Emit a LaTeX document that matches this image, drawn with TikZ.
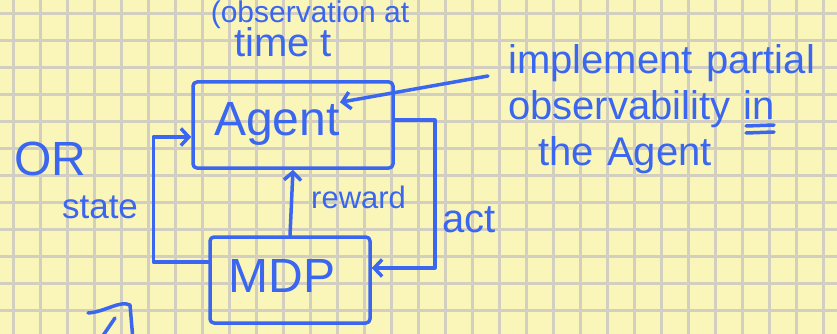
\documentclass[tikz,border=0pt]{standalone}
\usepackage{fontspec}
\setmainfont{Liberation Sans}
\usetikzlibrary{arrows.meta}
\definecolor{ink}{HTML}{3A66F0}
\definecolor{paper}{HTML}{FAF5B9}
\definecolor{gridgray}{HTML}{D2CEC0}
\begin{document}
\begin{tikzpicture}[x=1pt,y=-1pt,
	pen/.style={draw=ink,line width=3.5pt,line cap=round,line join=round},
	arr/.style={pen,-{Straight Barb[length=8pt,width=17pt]}},
	box/.style={pen,rounded corners=4pt,inner sep=0pt},
	hand/.style={text=ink,inner sep=0pt},
	big/.style={hand,font=\fontsize{48}{50}\selectfont},
	mid/.style={hand,font=\fontsize{40}{46}\selectfont},
	small/.style={hand,font=\fontsize{31}{34}\selectfont}]
	\fill[paper] (0,0) rectangle (837,334);
	\useasboundingbox (0,0) rectangle (837,334);
	\clip (0,0) rectangle (837,334);
	\foreach \x in {13.5,40.5,...,837}
		\draw[gridgray,line width=2.4pt] (\x,0) -- (\x,334);
	\foreach \y in {13.5,40.5,...,334}
		\draw[gridgray,line width=2.4pt] (0,\y) -- (837,\y);

	\node[hand,font=\fontsize{30}{34}\selectfont,anchor=base] (obs) at (310,23) {(observation at};
	\node[mid,anchor=base] (timet) at (283,57) {time t};
	\node[big,anchor=base] (or) at (50,175) {OR};

	\node[box,minimum width=200pt,minimum height=86pt] (agent) at (293,125) {};
	\node[big] (agentword) at (277,124) {Agent};
	\node[box,minimum width=160pt,minimum height=86pt] (mdp) at (290,280) {};
	\node[big] (mdpword) at (282,276) {MDP};

	\draw[arr] (mdp.north) -- (agent.south);
	\node[small,anchor=west] (reward) at (311,197) {reward};

	\draw[arr] ([yshift=18pt]mdp.west) -- ++(-55,0) |- ([yshift=-12pt]agent.west);
	\node[hand,font=\fontsize{35}{38}\selectfont] (state) at (100,207) {state};

	\draw[arr] ([yshift=5pt]agent.east) -- ++(40,0) |- ([yshift=12pt]mdp.east);
	\node[mid,anchor=west] (act) at (442,220) {act};

	\node[mid,anchor=north west,text width=330pt,align=left] (note) at (508,44)
		{implement partial\\observability in\\\hspace*{30pt}the Agent};
	\draw[arr] ([shift={(-20pt,-32pt)}]note.north west) -- (agentword.north east);
	\draw[pen] (746,126) -- (774,125);
	\draw[pen] (746,133) -- (774,132);

	\draw[pen] (88,313) .. controls (105,312) and (120,300) .. (130,305) -- (133,340);
	\draw[pen] (115,318) -- (100,340);
\end{tikzpicture}
\end{document}
